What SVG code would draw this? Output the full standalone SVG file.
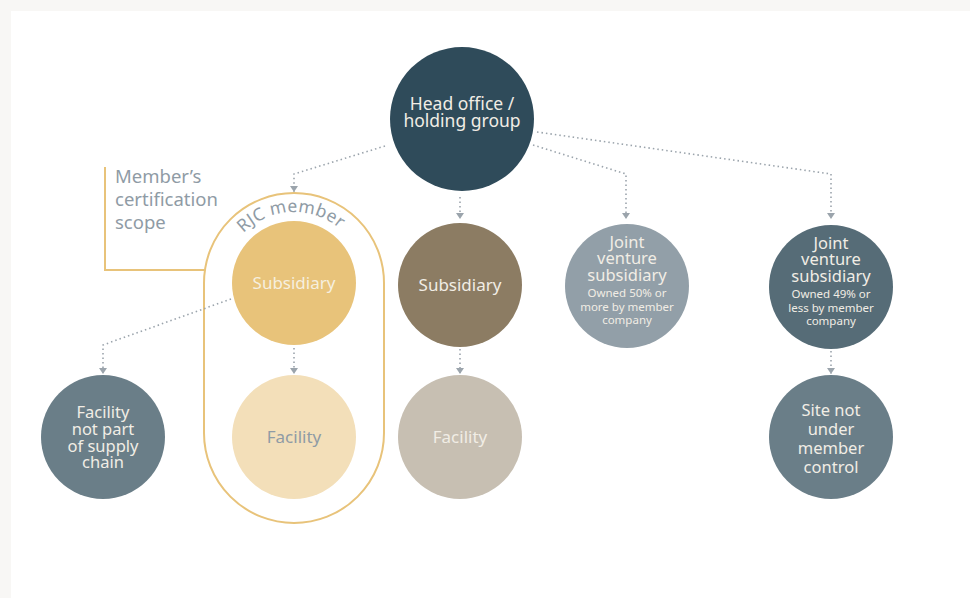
<svg xmlns="http://www.w3.org/2000/svg" width="970" height="598" viewBox="0 0 970 598">
<style>
text{font-family:"Noto Sans","Open Sans","DejaVu Sans",sans-serif;text-anchor:middle}
.lt{fill:#f1ede5;font-size:16.5px}
.sm{fill:#f1ede5;font-size:11.5px}
.gr{fill:#8f9ba5}
.con{fill:none;stroke:#9ba4ac;stroke-width:1.6;stroke-dasharray:1.5 3}
</style>
<defs>
<marker id="arr" viewBox="0 0 6 8" refX="6" refY="4" markerWidth="6" markerHeight="8" markerUnits="userSpaceOnUse" orient="auto">
<path d="M0,0 L6,4 L0,8 z" fill="#9ba4ac"/>
</marker>
<path id="rjcArc" d="M223,283 A71 71 0 0 1 365,283"/>
</defs>
<rect width="970" height="598" fill="#f8f7f5"/>
<rect x="11" y="11" width="959" height="587" fill="#ffffff"/>

<g id="scope">
<path d="M105,167 L105,270 L205,270" fill="none" stroke="#e8c37a" stroke-width="2"/>
<text class="gr" style="text-anchor:start;font-size:18.5px"><tspan x="115" y="183">Member’s</tspan><tspan x="115" y="206">certification</tspan><tspan x="115" y="229">scope</tspan></text>
</g>

<g id="rjc-member">
<path d="M204,283 A90 90 0 0 1 384,283 L384,433 A90 90 0 0 1 204,433 Z" fill="none" stroke="#e8c37a" stroke-width="2"/>
<text class="gr" style="font-size:17.5px;letter-spacing:0.4px"><textPath href="#rjcArc" startOffset="48.5%">RJC member</textPath></text>
</g>

<g id="connectors">
<polyline class="con" points="385,146 294,174 294,192" marker-end="url(#arr)"/>
<polyline class="con" points="460,197 460,219" marker-end="url(#arr)"/>
<polyline class="con" points="533,145 626,174 626,219" marker-end="url(#arr)"/>
<polyline class="con" points="537,132 831,174 831,219" marker-end="url(#arr)"/>
<polyline class="con" points="231,299 103,345 103,374" marker-end="url(#arr)"/>
<polyline class="con" points="294,348 294,374" marker-end="url(#arr)"/>
<polyline class="con" points="460,349 460,374" marker-end="url(#arr)"/>
<polyline class="con" points="831,351 831,374" marker-end="url(#arr)"/>
</g>

<g id="head-office">
<circle cx="462" cy="119" r="72" fill="#2f4b5a"/>
<text class="lt" style="font-size:17.5px"><tspan x="462" y="110">Head office /</tspan><tspan x="462" y="127">holding group</tspan></text>
</g>

<g id="subsidiary-member">
<circle cx="294" cy="283" r="62" fill="#e8c37a"/>
<text class="lt" x="294" y="289" style="fill:#f6efdf;font-size:17px">Subsidiary</text>
</g>

<g id="facility-member">
<circle cx="294" cy="437" r="62" fill="#f3dfb9"/>
<text class="gr" x="294" y="443" style="font-size:17px">Facility</text>
</g>

<g id="subsidiary">
<circle cx="460" cy="285" r="62" fill="#8c7c63"/>
<text class="lt" x="460" y="291" style="font-size:17px">Subsidiary</text>
</g>

<g id="facility">
<circle cx="460" cy="437" r="62" fill="#c7bfb2"/>
<text class="lt" x="460" y="443" style="font-size:17px">Facility</text>
</g>

<g id="facility-not-supply">
<circle cx="103" cy="437" r="62" fill="#6a7e88"/>
<text class="lt"><tspan x="103" y="418">Facility</tspan><tspan x="103" y="435">not part</tspan><tspan x="103" y="452">of supply</tspan><tspan x="103" y="468">chain</tspan></text>
</g>

<g id="jv-50">
<circle cx="627" cy="286" r="62" fill="#929fa8"/>
<text class="lt"><tspan x="627" y="248">Joint</tspan><tspan x="627" y="264">venture</tspan><tspan x="627" y="281">subsidiary</tspan></text>
<text class="sm"><tspan x="627" y="297">Owned 50% or</tspan><tspan x="627" y="311">more by member</tspan><tspan x="627" y="324">company</tspan></text>
</g>

<g id="jv-49">
<circle cx="831" cy="287" r="62" fill="#566c77"/>
<text class="lt"><tspan x="831" y="249">Joint</tspan><tspan x="831" y="265">venture</tspan><tspan x="831" y="282">subsidiary</tspan></text>
<text class="sm"><tspan x="831" y="298">Owned 49% or</tspan><tspan x="831" y="312">less by member</tspan><tspan x="831" y="325">company</tspan></text>
</g>

<g id="site-not-controlled">
<circle cx="831" cy="437" r="62" fill="#6a7e88"/>
<text class="lt"><tspan x="831" y="416">Site not</tspan><tspan x="831" y="435">under</tspan><tspan x="831" y="454">member</tspan><tspan x="831" y="473">control</tspan></text>
</g>
</svg>
